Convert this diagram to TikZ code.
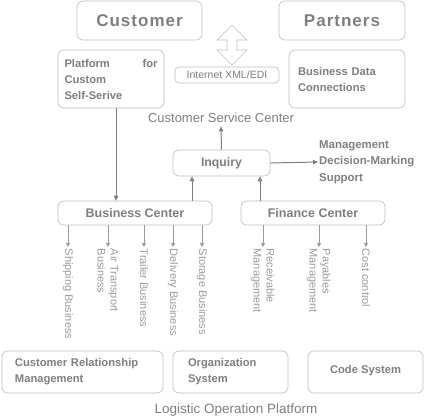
\documentclass[tikz,border=0pt]{standalone}
\usepackage{fontspec}
\setmainfont{Liberation Sans}
\usetikzlibrary{arrows.meta}

\definecolor{boxgray}{HTML}{BDBDBD}
\definecolor{txtgray}{HTML}{7F7F7F}
\definecolor{lightgray}{HTML}{9C9C9C}

\tikzset{
    box/.style={draw=boxgray, rounded corners=6pt, line width=0.6pt,
                text=txtgray, font=\fontsize{11.2}{16}\selectfont\bfseries},
    bigbox/.style={box, font=\fontsize{17}{18}\selectfont\bfseries\addfontfeature{LetterSpace=6}},
    link/.style={draw=txtgray, line width=1pt, -{Triangle[length=5pt,width=4.5pt]}},
    drop/.style={draw=lightgray, line width=0.7pt, -{Triangle[length=4pt,width=4pt]}},
    droplabel/.style={rotate=-90, anchor=west, align=left, inner sep=1.5pt,
                text=lightgray, font=\fontsize{11}{13}\selectfont},
    plain/.style={text=txtgray, font=\fontsize{13}{15}\selectfont}
}

\begin{document}
\begin{tikzpicture}[x=1pt, y=-1pt]
    \useasboundingbox (0,0) rectangle (424,417);

    % top row
    \node[bigbox, minimum width=125pt, minimum height=39pt] (customer) at (139.5,20.5) {Customer};
    \node[bigbox, minimum width=126pt, minimum height=39pt] (partners) at (342,20.5) {Partners};

    \node[box, text width=93pt, inner xsep=6.5pt, minimum height=58pt, align=left]
        (platform) at (111,79) {Platform\hfill for\\Custom\\Self-Serive};
    \node[box, text width=98pt, inner xsep=9pt, minimum height=58pt, align=left]
        (bdc) at (347,79) {Business Data\\Connections\\[4pt]};

    % exchange arrow
    \draw[boxgray, line width=0.6pt] (232,25) -- (247,40) -- (237,40) -- (237,50) -- (247,50)
        -- (232,65) -- (217,50) -- (227,50) -- (227,40) -- (217,40) -- cycle;
    \node[draw=boxgray, rounded corners=4pt, line width=0.6pt, text=txtgray,
          font=\fontsize{10.5}{11}\selectfont, minimum width=104pt, minimum height=16pt, inner sep=1pt]
        (edi) at (227,75) {Internet XML/EDI};

    \node[plain] (csc) at (221,118) {Customer Service Center};

    % middle
    \node[box, font=\fontsize{12.3}{14}\selectfont\bfseries, minimum width=97pt, minimum height=26pt]
        (inquiry) at (221.5,163) {Inquiry};
    \node[anchor=west, align=left, inner sep=1pt, text=txtgray,
          font=\fontsize{11.4}{16.5}\selectfont\bfseries]
        (mgmt) at (318,162) {Management\\Decision-Marking\\Support};

    \node[box, font=\fontsize{12.5}{14}\selectfont\bfseries, minimum width=154pt, minimum height=24pt]
        (bc) at (135,213) {Business Center};
    \node[box, font=\fontsize{12.5}{14}\selectfont\bfseries, minimum width=144pt, minimum height=24pt]
        (fc) at (313,213) {Finance Center};

    \draw[link] ([xshift=5pt]platform.south) -- ([xshift=5pt]platform.south |- bc.north);
    \draw[link] (inquiry.north) -- (csc.south);
    \draw[link] (inquiry.east) -- (mgmt.west);
    \draw[link] ([xshift=-29.5pt]inquiry.south |- bc.north) -- ([xshift=-29.5pt]inquiry.south);
    \draw[link] ([xshift=38.5pt]inquiry.south |- fc.north) -- ([xshift=38.5pt]inquiry.south);

    % business lines
    \foreach \x/\name/\txt in {68/ship/Shipping Business, 108/air/{Air Transport\\Business},
                               144/trailer/Trailer Business, 173/delivery/Delivery Business,
                               202/storage/Storage Business}{
        \node[droplabel] (\name) at (\x,247) {\txt};
        \draw[drop] (bc.south -| \name.west) -- (\name.west);
    }
    \foreach \x/\name/\txt in {263/recv/{Receivable\\Management}, 319/pay/{Payables\\Management},
                               366/cost/Cost control}{
        \node[droplabel] (\name) at (\x,247) {\txt};
        \draw[drop] (fc.south -| \name.west) -- (\name.west);
    }

    % bottom row
    \node[box, text width=135pt, inner xsep=13pt, minimum height=42pt, align=left]
        (crm) at (82.5,372) {Customer Relationship\\Management\\[2pt]};
    \node[box, text width=85pt, inner xsep=15pt, minimum height=42pt, align=left]
        (org) at (230.5,372) {Organization\\System\\[2pt]};
    \node[box, minimum width=115pt, minimum height=42pt]
        (code) at (365.5,372) {\raisebox{5pt}{Code System}};

    \node[plain, font=\fontsize{13.5}{15}\selectfont] (lop) at (236,410) {Logistic Operation Platform};
\end{tikzpicture}
\end{document}
